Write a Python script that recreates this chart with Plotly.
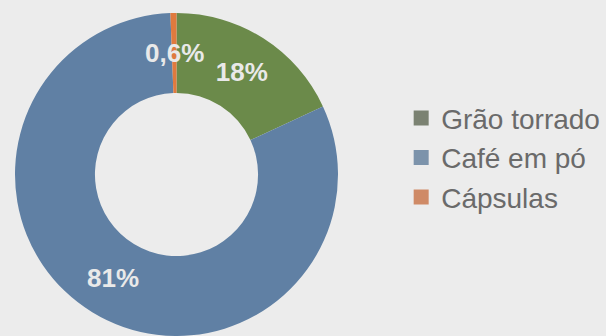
import math
import plotly.graph_objects as go

# Coffee sales by product type (share, %)
categories = ["Grão torrado", "Café em pó", "Cápsulas"]
shares = [18, 81, 0.6]
colors = ["#6b8a4a", "#6080a4", "#e07a3e"]
legend_colors = ["#7b8272", "#7c93ab", "#cf8a66"]

labels_txt = [f"{v:g}%".replace(".", ",") for v in shares]

W, H = 606, 336
HOLE = 0.505
DOM_X = [15 / W, 338 / W]
DOM_Y = [0, 323 / H]
LABEL_FONT = dict(family="Liberation Sans, Arial, sans-serif", size=26,
                  color="#e9e9e9", weight="bold")

# slices too thin to hold their label get it drawn as an annotation
thin = [v / sum(shares) < 0.03 for v in shares]

fig = go.Figure(
    go.Pie(
        labels=categories,
        values=shares,
        text=labels_txt,
        textinfo="text",
        textposition=["none" if t else "inside" for t in thin],
        insidetextorientation="horizontal",
        hole=HOLE,
        sort=False,
        direction="clockwise",
        rotation=0,
        marker=dict(colors=colors, line=dict(width=0)),
        textfont=LABEL_FONT,
        domain=dict(x=DOM_X, y=DOM_Y),
        showlegend=False,
        hoverinfo="label+percent",
    )
)

# place labels of thin slices at the middle of the ring, on the slice bisector
cx = (DOM_X[0] + DOM_X[1]) / 2
cy = (DOM_Y[0] + DOM_Y[1]) / 2
R_px = min((DOM_X[1] - DOM_X[0]) * W, (DOM_Y[1] - DOM_Y[0]) * H) / 2
r_mid = R_px * (1 + HOLE) / 2
total = sum(shares)
cum = 0.0
for val, txt, is_thin in zip(shares, labels_txt, thin):
    theta = 2 * math.pi * (cum + val / 2) / total
    cum += val
    if not is_thin:
        continue
    fig.add_annotation(
        x=cx + r_mid * math.sin(theta) / W,
        y=cy + r_mid * math.cos(theta) / H,
        xref="paper", yref="paper",
        text=txt, showarrow=False,
        font=LABEL_FONT,
        xanchor="center", yanchor="middle",
    )

# legend entries with square swatches
for name, col in zip(categories, legend_colors):
    fig.add_trace(go.Scatter(
        x=[None], y=[None], mode="markers", name=name,
        marker=dict(symbol="square", size=15, color=col),
        hoverinfo="skip",
    ))

fig.update_layout(
    width=W,
    height=H,
    margin=dict(l=0, r=0, t=0, b=0),
    paper_bgcolor="#ececec",
    plot_bgcolor="rgba(0,0,0,0)",
    xaxis=dict(visible=False),
    yaxis=dict(visible=False),
    showlegend=True,
    legend=dict(
        x=0.662, xanchor="left",
        y=0.53, yanchor="middle",
        font=dict(family="Liberation Sans, Arial, sans-serif", size=28, color="#6a6a6a"),
        bgcolor="rgba(0,0,0,0)",
        itemclick=False,
        tracegroupgap=0,
    ),
)

fig.write_html("out.html")
